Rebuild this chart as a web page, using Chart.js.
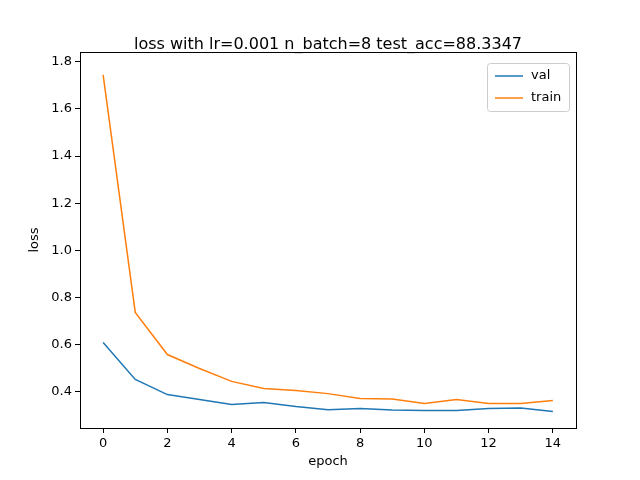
<!DOCTYPE html>
<html>
<head>
<meta charset="utf-8">
<script src="https://cdn.jsdelivr.net/npm/chart.js@4/dist/chart.umd.min.js"></script>
<style>body{margin:0;background:#fff}</style>
</head>
<body>
<canvas id="c" width="640" height="480"></canvas>
<script>
// Values
const epochs = [0, 1, 2, 3, 4, 5, 6, 7, 8, 9, 10, 11, 12, 13, 14];
const valLoss = [0.608, 0.451, 0.387, 0.366, 0.345, 0.353, 0.336, 0.323, 0.328, 0.321, 0.319, 0.319, 0.328, 0.330, 0.315];
const trainLoss = [1.745, 0.736, 0.557, 0.498, 0.443, 0.413, 0.404, 0.391, 0.370, 0.368, 0.349, 0.366, 0.349, 0.349, 0.362];
const xTicks = [0, 2, 4, 6, 8, 10, 12, 14];
const yTicks = [0.4, 0.6, 0.8, 1.0, 1.2, 1.4, 1.6, 1.8];
const titleText = "loss with lr=0.001 n_batch=8 test_acc=88.3347";

const FONT = "DejaVu Sans";
const tickFont = { family: FONT, size: 13 };

// Frame, title, axis labels and legend, drawn the matplotlib way
const decor = {
  id: "decor",
  afterDraw(chart) {
    const { ctx, chartArea: a } = chart;
    ctx.save();
    ctx.strokeStyle = "#000";
    ctx.lineWidth = 1;
    ctx.strokeRect(a.left + 0.5, a.top + 0.5, a.right - a.left, a.bottom - a.top);

    ctx.fillStyle = "#000";
    ctx.font = "16px " + FONT;
    ctx.textAlign = "center";
    ctx.textBaseline = "alphabetic";
    ctx.fillText(titleText, (a.left + a.right) / 2, a.top - 3);

    ctx.font = "13px " + FONT;
    ctx.textBaseline = "middle";
    ctx.fillText("epoch", (a.left + a.right) / 2, 462);
    ctx.save();
    ctx.translate(35, (a.top + a.bottom) / 2);
    ctx.rotate(-Math.PI / 2);
    ctx.fillText("loss", 0, 0);
    ctx.restore();

    // legend box
    const bx = a.right - 89, by = a.top + 11, bw = 82, bh = 48;
    ctx.fillStyle = "rgba(255,255,255,0.8)";
    ctx.strokeStyle = "#ccc";
    ctx.beginPath();
    ctx.roundRect(bx + 0.5, by + 0.5, bw, bh, 3);
    ctx.fill();
    ctx.stroke();
    ctx.textAlign = "left";
    chart.data.datasets.forEach((ds, i) => {
      const y = by + 13 + i * 22;
      ctx.strokeStyle = ds.borderColor;
      ctx.lineWidth = 1.5;
      ctx.beginPath();
      ctx.moveTo(bx + 8, y);
      ctx.lineTo(bx + 36, y);
      ctx.stroke();
      ctx.fillStyle = "#000";
      ctx.fillText(ds.label, bx + 44, y);
    });
    ctx.restore();
  }
};

new Chart(document.getElementById("c"), {
  type: "line",
  data: {
    datasets: [
      {
        label: "val",
        data: epochs.map((e, i) => ({ x: e, y: valLoss[i] })),
        borderColor: "#1f77b4",
        borderWidth: 1.5,
        pointRadius: 0,
        tension: 0
      },
      {
        label: "train",
        data: epochs.map((e, i) => ({ x: e, y: trainLoss[i] })),
        borderColor: "#ff7f0e",
        borderWidth: 1.5,
        pointRadius: 0,
        tension: 0
      }
    ]
  },
  options: {
    responsive: false,
    devicePixelRatio: 1,
    animation: false,
    layout: { padding: { top: 52, right: 64, left: 0, bottom: 0 } },
    plugins: { legend: { display: false }, tooltip: { enabled: false } },
    scales: {
      x: {
        type: "linear",
        min: -0.72,
        max: 14.72,
        afterBuildTicks: s => { s.ticks = xTicks.map(v => ({ value: v })); },
        afterFit: s => { s.height = 52; },
        grid: { drawOnChartArea: false, tickLength: 5, color: "#000" },
        border: { display: false },
        ticks: { color: "#000", font: tickFont, maxRotation: 0, padding: 3 }
      },
      y: {
        min: 0.245,
        max: 1.842,
        afterBuildTicks: s => { s.ticks = yTicks.map(v => ({ value: v })); },
        afterFit: s => { s.width = 80; },
        grid: { drawOnChartArea: false, tickLength: 5, color: "#000" },
        border: { display: false },
        ticks: { color: "#000", font: tickFont, padding: 3, callback: v => v.toFixed(1) }
      }
    }
  },
  plugins: [decor]
});
</script>
</body>
</html>
